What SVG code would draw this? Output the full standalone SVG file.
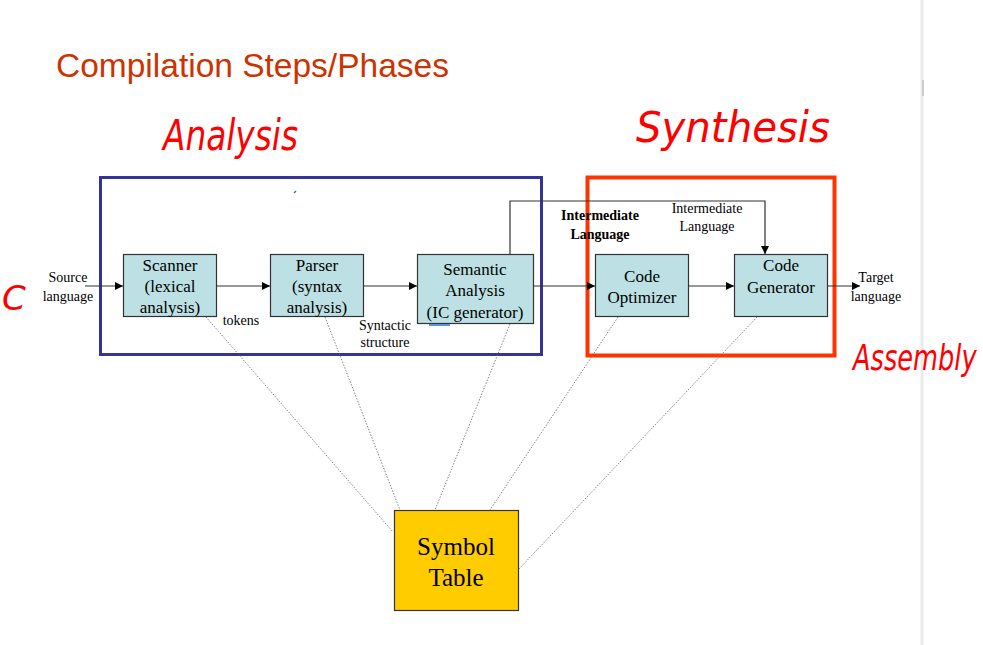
<svg xmlns="http://www.w3.org/2000/svg" width="983" height="645" viewBox="0 0 983 645">
<defs>
<style>
.box{fill:#BCE0E3;stroke:#333;stroke-width:1.2}
.t{font-family:"Liberation Serif",serif;font-size:17px;fill:#000;text-anchor:middle}
.big{font-size:25px}
.s{font-family:"Liberation Serif",serif;font-size:14px;fill:#000;text-anchor:middle}
.sb{font-family:"Liberation Serif",serif;font-size:14px;font-weight:bold;fill:#000;text-anchor:middle}
.ln{stroke:#333;stroke-width:1.2;fill:none}
.dot{stroke:#666;stroke-width:0.8;stroke-dasharray:1.5 1.5;fill:none}
.hand{font-family:"DejaVu Sans",sans-serif;font-style:italic;font-weight:200;fill:#F00}
</style>
<marker id="ah" viewBox="0 0 10 10" refX="10" refY="5" markerWidth="8" markerHeight="8" markerUnits="userSpaceOnUse" orient="auto">
<path d="M0,0 L10,5 L0,10 z" fill="#000"/>
</marker>
</defs>
<rect width="983" height="645" fill="#fff"/>
<line x1="922" y1="0" x2="922" y2="645" stroke="#EBEBEB" stroke-width="3"/>
<line x1="923" y1="80" x2="923" y2="96" stroke="#AAA" stroke-width="1"/>
<text x="56" y="77" font-family="Liberation Sans,Arial,sans-serif" font-size="33.5" fill="#CC3300">Compilation Steps/Phases</text>
<g id="handwriting">
<text class="hand" x="163" y="150" font-size="42" textLength="135" lengthAdjust="spacingAndGlyphs">Analysis</text>
<text class="hand" x="636" y="142" font-size="42" textLength="194" lengthAdjust="spacingAndGlyphs">Synthesis</text>
<text class="hand" transform="translate(853,370) scale(0.95,1.3)" x="0" y="0" font-size="27">Assembly</text>
<text class="hand" x="2" y="310" font-size="34">C</text>
</g>
<g id="analysis-frame"><rect x="100.5" y="177.5" width="441" height="177" fill="none" stroke="#333399" stroke-width="3"/></g>
<g id="synthesis-frame"><rect x="587.5" y="177.5" width="247" height="178" fill="none" stroke="#FF3300" stroke-width="4"/></g>
<g id="connectors">
<line class="ln" x1="85" y1="286" x2="123" y2="286" marker-end="url(#ah)"/>
<line class="ln" x1="217" y1="286" x2="270" y2="286" marker-end="url(#ah)"/>
<line class="ln" x1="363" y1="286" x2="417" y2="286" marker-end="url(#ah)"/>
<line class="ln" x1="533" y1="286" x2="595" y2="286" marker-end="url(#ah)"/>
<line class="ln" x1="688" y1="286" x2="734" y2="286" marker-end="url(#ah)"/>
<line class="ln" x1="827" y1="286" x2="860" y2="286" marker-end="url(#ah)"/>
<polyline class="ln" points="510,254 510,201 765,201 765,254" marker-end="url(#ah)"/>
<line class="dot" x1="206" y1="317" x2="393" y2="532"/>
<line class="dot" x1="325" y1="317" x2="400" y2="510"/>
<line class="dot" x1="510" y1="324" x2="435" y2="510"/>
<line class="dot" x1="618" y1="317" x2="490" y2="510"/>
<line class="dot" x1="757" y1="317" x2="518" y2="570"/>
</g>
<g id="scanner"><rect class="box" x="123.5" y="254.5" width="93" height="62"/>
<text class="t" x="170" y="271">Scanner</text><text class="t" x="170" y="292">(lexical</text><text class="t" x="170" y="313">analysis)</text></g>
<g id="parser"><rect class="box" x="270.5" y="254.5" width="93" height="62"/>
<text class="t" x="317" y="271">Parser</text><text class="t" x="317" y="292">(syntax</text><text class="t" x="317" y="313">analysis)</text></g>
<g id="semantic"><rect class="box" x="417.5" y="254.5" width="116" height="69"/>
<text class="t" x="475" y="275">Semantic</text><text class="t" x="475" y="296">Analysis</text><text class="t" x="475" y="318">(IC generator)</text>
<line x1="429" y1="325" x2="450" y2="325" stroke="#2E6FE0" stroke-width="1.5"/></g>
<g id="optimizer"><rect class="box" x="595.5" y="254.5" width="93" height="62"/>
<text class="t" x="642" y="282">Code</text><text class="t" x="642" y="303">Optimizer</text></g>
<g id="generator"><rect class="box" x="734.5" y="254.5" width="93" height="62"/>
<text class="t" x="781" y="271">Code</text><text class="t" x="781" y="293">Generator</text></g>
<g id="symtab"><rect x="394.5" y="510.5" width="124" height="100" fill="#FFCC00" stroke="#333" stroke-width="1.2"/>
<text class="t big" x="456" y="555">Symbol</text><text class="t big" x="456" y="586">Table</text></g>
<g id="labels">
<text class="s" x="68" y="282">Source</text><text class="s" x="68" y="301">language</text>
<text class="s" x="241" y="325">tokens</text>
<text class="s" x="385" y="330">Syntactic</text><text class="s" x="385" y="347">structure</text>
<text class="sb" x="600" y="220">Intermediate</text><text class="sb" x="600" y="239">Language</text>
<text class="s" x="707" y="213">Intermediate</text><text class="s" x="707" y="231">Language</text>
<text class="s" x="876" y="282">Target</text><text class="s" x="876" y="301">language</text>
</g>
<line x1="294" y1="193" x2="296" y2="191" stroke="#2E6FE0" stroke-width="1.5"/>
</svg>
